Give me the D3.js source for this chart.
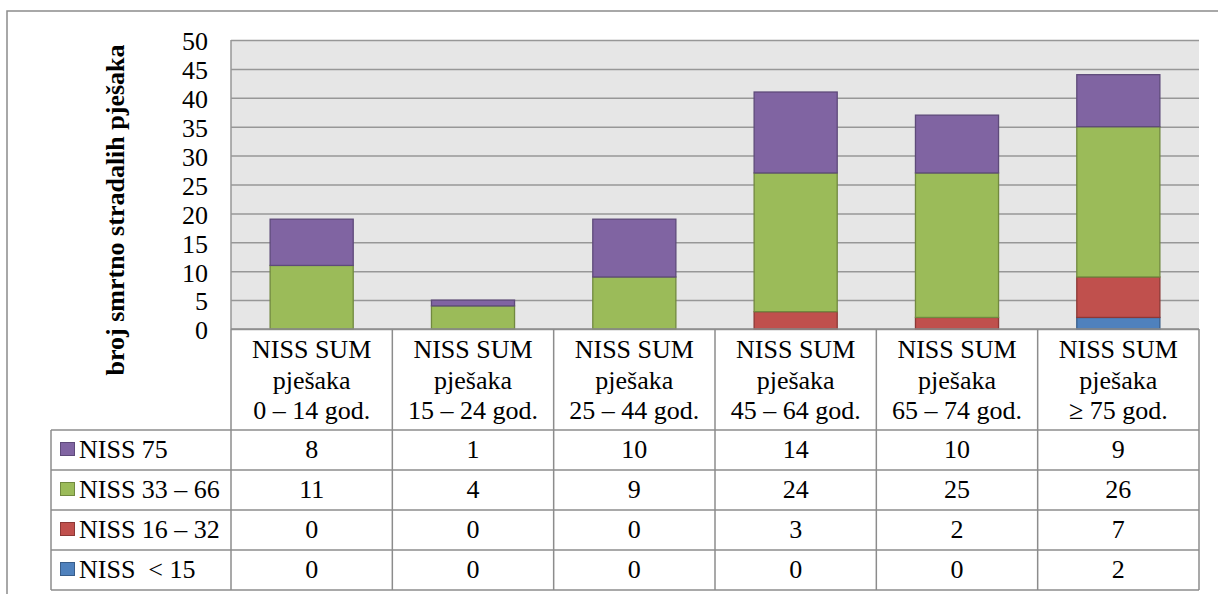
<!DOCTYPE html>
<html>
<head>
<meta charset="utf-8">
<script src="https://cdn.jsdelivr.net/npm/d3@7"></script>
<style>
  body { margin: 0; background: #fff; }
  svg text { font-family: "Liberation Serif", "Times New Roman", serif; fill: #000; }
</style>
</head>
<body>
<div id="chart"></div>
<script>
// Stacked bars with Excel-style data table underneath

const categories = [
  ['NISS SUM', 'pješaka', '0 – 14 god.'],
  ['NISS SUM', 'pješaka', '15 – 24 god.'],
  ['NISS SUM', 'pješaka', '25 – 44 god.'],
  ['NISS SUM', 'pješaka', '45 – 64 god.'],
  ['NISS SUM', 'pješaka', '65 – 74 god.'],
  ['NISS SUM', 'pješaka', '≥ 75 god.'],
];
const seriesNames = ['NISS 75', 'NISS 33 – 66', 'NISS 16 – 32', 'NISS  < 15'];
const niss75 = [8, 1, 10, 14, 10, 9];
const niss33to66 = [11, 4, 9, 24, 25, 26];
const niss16to32 = [0, 0, 0, 3, 2, 7];
const nissUnder15 = [0, 0, 0, 0, 0, 2];
const yTicks = [0, 5, 10, 15, 20, 25, 30, 35, 40, 45, 50];
const yTitle = 'broj smrtno stradalih pješaka';

const fills = ['#8064a2', '#9bbb59', '#c0504d', '#4f81bd'];
const strokes = ['#5e4a7a', '#71893f', '#8c3836', '#385d8a'];

const W = 1218, H = 594;
const plot = { left: 231, right: 1199, top: 40, bottom: 329 };
const tableLeft = 51;
const rowYs = [430, 470, 510, 550, 590];
const fontSize = '26px';

const svg = d3.select('#chart').append('svg')
  .attr('width', W).attr('height', H);

// outer chart border
svg.append('rect')
  .attr('x', 7).attr('y', 11).attr('width', W).attr('height', H)
  .attr('fill', 'none').attr('stroke', '#8c8c8c').attr('stroke-width', 1.5);

const x = d3.scaleBand()
  .domain(d3.range(categories.length))
  .range([plot.left, plot.right])
  .paddingInner(0.485).paddingOuter(0.2425);
const xCell = d3.scaleBand()
  .domain(d3.range(categories.length))
  .range([plot.left, plot.right]);
const y = d3.scaleLinear().domain([0, 50]).range([plot.bottom, plot.top]);

// plot background
svg.append('rect')
  .attr('x', plot.left).attr('y', plot.top)
  .attr('width', plot.right - plot.left).attr('height', plot.bottom - plot.top)
  .attr('fill', '#e6e6e6');

// gridlines
svg.append('g')
  .attr('transform', `translate(${plot.left},0)`)
  .call(d3.axisLeft(y).tickValues(yTicks).tickSize(-(plot.right - plot.left)).tickFormat(''))
  .call(g => g.select('.domain').remove())
  .call(g => g.selectAll('line').attr('stroke', '#979797').attr('stroke-width', 1.5));

// y tick labels
svg.append('g')
  .attr('transform', `translate(${plot.left},0)`)
  .call(d3.axisLeft(y).tickValues(yTicks).tickSize(0).tickPadding(23))
  .call(g => g.select('.domain').remove())
  .call(g => g.selectAll('text').style('font-size', fontSize).attr('dy', '0.38em'));

// left edge of plot
svg.append('line')
  .attr('x1', plot.left).attr('x2', plot.left)
  .attr('y1', plot.top).attr('y2', plot.bottom)
  .attr('stroke', '#979797').attr('stroke-width', 1.5);

// stacked bars
const rows = categories.map((c, i) => ({
  i, a: nissUnder15[i], b: niss16to32[i], c: niss33to66[i], d: niss75[i]
}));
const stack = d3.stack().keys(['a', 'b', 'c', 'd'])(rows);
const stackColor = { a: 3, b: 2, c: 1, d: 0 };

svg.append('g').selectAll('g')
  .data(stack)
  .join('g')
    .attr('fill', s => fills[stackColor[s.key]])
    .attr('stroke', s => strokes[stackColor[s.key]])
    .attr('stroke-width', 1.3)
  .selectAll('rect')
  .data(s => s.filter(d => d[1] > d[0]))
  .join('rect')
    .attr('x', d => x(d.data.i))
    .attr('width', x.bandwidth())
    .attr('y', d => y(d[1]))
    .attr('height', d => y(d[0]) - y(d[1]));

// data table lines
const lineColor = '#8c8c8c';
const tbl = svg.append('g').attr('stroke', lineColor).attr('stroke-width', 1.5);
tbl.append('line')
  .attr('x1', plot.left).attr('x2', plot.right)
  .attr('y1', plot.bottom).attr('y2', plot.bottom);
rowYs.forEach(ry => {
  tbl.append('line')
    .attr('x1', tableLeft).attr('x2', plot.right)
    .attr('y1', ry).attr('y2', ry);
});
d3.range(categories.length + 1).forEach(k => {
  const xx = k < categories.length ? xCell(k) : plot.right;
  tbl.append('line')
    .attr('x1', xx).attr('x2', xx)
    .attr('y1', plot.bottom).attr('y2', rowYs[rowYs.length - 1]);
});
tbl.append('line')
  .attr('x1', tableLeft).attr('x2', tableLeft)
  .attr('y1', rowYs[0]).attr('y2', rowYs[rowYs.length - 1]);

// category labels
categories.forEach((lines, i) => {
  const t = svg.append('text')
    .attr('text-anchor', 'middle')
    .style('font-size', fontSize);
  lines.forEach((ln, j) => {
    t.append('tspan')
      .attr('x', xCell(i) + xCell.bandwidth() / 2)
      .attr('y', 358 + j * 30.5)
      .text(ln);
  });
});

// table values and legend keys
const tableSeries = [niss75, niss33to66, niss16to32, nissUnder15];
tableSeries.forEach((vals, r) => {
  const cy = (rowYs[r] + rowYs[r + 1]) / 2;
  svg.append('rect')
    .attr('x', 60.5).attr('y', cy - 7.5)
    .attr('width', 14).attr('height', 13)
    .attr('fill', fills[r]).attr('stroke', strokes[r]).attr('stroke-width', 1);
  svg.append('text')
    .attr('x', 79).attr('y', cy + 8)
    .style('font-size', fontSize)
    .style('white-space', 'pre')
    .text(seriesNames[r]);
  vals.forEach((v, i) => {
    svg.append('text')
      .attr('x', xCell(i) + xCell.bandwidth() / 2)
      .attr('y', cy + 8)
      .attr('text-anchor', 'middle')
      .style('font-size', fontSize)
      .text(v);
  });
});

// y axis title
svg.append('text')
  .attr('transform', `translate(124, 210) rotate(-90)`)
  .attr('text-anchor', 'middle')
  .style('font-size', fontSize)
  .style('font-weight', 'bold')
  .text(yTitle);
</script>
</body>
</html>
